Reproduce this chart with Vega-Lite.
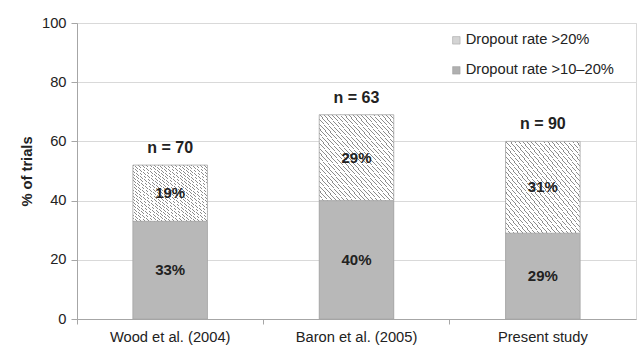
{
  "$schema": "https://vega.github.io/schema/vega-lite/v6.json",
  "width": 559,
  "height": 296,
  "autosize": {"type": "none"},
  "padding": {"left": 77, "top": 23, "right": 5, "bottom": 30},
  "background": "white",
  "config": {
    "font": "Liberation Sans",
    "view": {"stroke": "#d9d9d9", "strokeWidth": 1},
    "axis": {"labelFont": "Liberation Sans", "labelFontSize": 14.7, "labelColor": "#222", "domainColor": "#a6a6a6", "tickColor": "#a6a6a6", "gridColor": "#d9d9d9", "titleFont": "Liberation Sans"},
    "axisY": {"title": "% of trials", "titleFontSize": 14.7, "titleFontWeight": "bold", "titleColor": "#222", "values": [0, 20, 40, 60, 80, 100], "grid": true, "tickSize": 6, "labelPadding": 5, "titlePadding": 7, "labelOverlap": false}
  },
  "datasets": {
    "bars": [
      {"study": "Wood et al. (2004)", "series": "Dropout rate >10–20%", "value": 33, "label": "33%"},
      {"study": "Wood et al. (2004)", "series": "Dropout rate >20%", "value": 19, "label": "19%"},
      {"study": "Baron et al. (2005)", "series": "Dropout rate >10–20%", "value": 40, "label": "40%"},
      {"study": "Baron et al. (2005)", "series": "Dropout rate >20%", "value": 29, "label": "29%"},
      {"study": "Present study", "series": "Dropout rate >10–20%", "value": 29, "label": "29%"},
      {"study": "Present study", "series": "Dropout rate >20%", "value": 31, "label": "31%"}
    ],
    "totals": [
      {"study": "Wood et al. (2004)", "value": 52, "n": "n = 70"},
      {"study": "Baron et al. (2005)", "value": 69, "n": "n = 63"},
      {"study": "Present study", "value": 60, "n": "n = 90"}
    ]
  },
  "encoding": {
    "x": {
      "field": "study", "type": "nominal", "sort": null,
      "scale": {"paddingInner": 0.6, "paddingOuter": 0.3},
      "axis": {"title": null, "labelAngle": 0, "bandPosition": -0.75, "tickSize": 5, "labelPadding": 5, "grid": false}
    },
    "y": {
      "field": "value", "type": "quantitative", "stack": "zero",
      "scale": {"domain": [0, 100]},
      "axis": {"title": "% of trials", "values": [0, 20, 40, 60, 80, 100]}
    }
  },
  "layer": [
    {
      "data": {"name": "bars"},
      "mark": {"type": "bar"},
      "encoding": {
        "order": {"field": "series", "sort": "ascending"},
        "color": {
          "field": "series", "type": "nominal", "sort": "descending",
          "scale": {"range": ["#d4d4d4", "#b0b0b0"]},
          "legend": {"title": null, "orient": "none", "legendX": 372, "legendY": 10, "symbolType": "square", "symbolSize": 56, "symbolStrokeColor": "#999", "symbolStrokeWidth": 0.5, "labelFontSize": 14.7, "labelColor": "#222", "rowPadding": 14, "labelOffset": 2}
        }
      }
    },
    {
      "data": {"name": "bars"},
      "mark": {"type": "bar", "stroke": "#a6a6a6", "strokeWidth": 0.8},
      "encoding": {
        "order": {"field": "series", "sort": "ascending"},
        "fill": {
          "condition": {
            "test": "indexof(datum.series, '>20%') >= 0",
            "value": {
              "gradient": "linear", "x1": 0, "y1": 1, "x2": 1, "y2": 0,
              "stops": [
                {"offset": 0, "color": "#8c8c8c"}, {"offset": 0.0061, "color": "#8c8c8c"}, {"offset": 0.0061, "color": "#ffffff"}, {"offset": 0.0278, "color": "#ffffff"},
                {"offset": 0.0278, "color": "#8c8c8c"}, {"offset": 0.0339, "color": "#8c8c8c"}, {"offset": 0.0339, "color": "#ffffff"}, {"offset": 0.0556, "color": "#ffffff"},
                {"offset": 0.0556, "color": "#8c8c8c"}, {"offset": 0.0617, "color": "#8c8c8c"}, {"offset": 0.0617, "color": "#ffffff"}, {"offset": 0.0833, "color": "#ffffff"},
                {"offset": 0.0833, "color": "#8c8c8c"}, {"offset": 0.0894, "color": "#8c8c8c"}, {"offset": 0.0894, "color": "#ffffff"}, {"offset": 0.1111, "color": "#ffffff"},
                {"offset": 0.1111, "color": "#8c8c8c"}, {"offset": 0.1172, "color": "#8c8c8c"}, {"offset": 0.1172, "color": "#ffffff"}, {"offset": 0.1389, "color": "#ffffff"},
                {"offset": 0.1389, "color": "#8c8c8c"}, {"offset": 0.1450, "color": "#8c8c8c"}, {"offset": 0.1450, "color": "#ffffff"}, {"offset": 0.1667, "color": "#ffffff"},
                {"offset": 0.1667, "color": "#8c8c8c"}, {"offset": 0.1728, "color": "#8c8c8c"}, {"offset": 0.1728, "color": "#ffffff"}, {"offset": 0.1944, "color": "#ffffff"},
                {"offset": 0.1944, "color": "#8c8c8c"}, {"offset": 0.2005, "color": "#8c8c8c"}, {"offset": 0.2005, "color": "#ffffff"}, {"offset": 0.2222, "color": "#ffffff"},
                {"offset": 0.2222, "color": "#8c8c8c"}, {"offset": 0.2283, "color": "#8c8c8c"}, {"offset": 0.2283, "color": "#ffffff"}, {"offset": 0.25, "color": "#ffffff"},
                {"offset": 0.25, "color": "#8c8c8c"}, {"offset": 0.2561, "color": "#8c8c8c"}, {"offset": 0.2561, "color": "#ffffff"}, {"offset": 0.2778, "color": "#ffffff"},
                {"offset": 0.2778, "color": "#8c8c8c"}, {"offset": 0.2839, "color": "#8c8c8c"}, {"offset": 0.2839, "color": "#ffffff"}, {"offset": 0.3056, "color": "#ffffff"},
                {"offset": 0.3056, "color": "#8c8c8c"}, {"offset": 0.3117, "color": "#8c8c8c"}, {"offset": 0.3117, "color": "#ffffff"}, {"offset": 0.3333, "color": "#ffffff"},
                {"offset": 0.3333, "color": "#8c8c8c"}, {"offset": 0.3394, "color": "#8c8c8c"}, {"offset": 0.3394, "color": "#ffffff"}, {"offset": 0.3611, "color": "#ffffff"},
                {"offset": 0.3611, "color": "#8c8c8c"}, {"offset": 0.3672, "color": "#8c8c8c"}, {"offset": 0.3672, "color": "#ffffff"}, {"offset": 0.3889, "color": "#ffffff"},
                {"offset": 0.3889, "color": "#8c8c8c"}, {"offset": 0.3950, "color": "#8c8c8c"}, {"offset": 0.3950, "color": "#ffffff"}, {"offset": 0.4167, "color": "#ffffff"},
                {"offset": 0.4167, "color": "#8c8c8c"}, {"offset": 0.4228, "color": "#8c8c8c"}, {"offset": 0.4228, "color": "#ffffff"}, {"offset": 0.4444, "color": "#ffffff"},
                {"offset": 0.4444, "color": "#8c8c8c"}, {"offset": 0.4505, "color": "#8c8c8c"}, {"offset": 0.4505, "color": "#ffffff"}, {"offset": 0.4722, "color": "#ffffff"},
                {"offset": 0.4722, "color": "#8c8c8c"}, {"offset": 0.4783, "color": "#8c8c8c"}, {"offset": 0.4783, "color": "#ffffff"}, {"offset": 0.5, "color": "#ffffff"},
                {"offset": 0.5, "color": "#8c8c8c"}, {"offset": 0.5061, "color": "#8c8c8c"}, {"offset": 0.5061, "color": "#ffffff"}, {"offset": 0.5278, "color": "#ffffff"},
                {"offset": 0.5278, "color": "#8c8c8c"}, {"offset": 0.5339, "color": "#8c8c8c"}, {"offset": 0.5339, "color": "#ffffff"}, {"offset": 0.5556, "color": "#ffffff"},
                {"offset": 0.5556, "color": "#8c8c8c"}, {"offset": 0.5617, "color": "#8c8c8c"}, {"offset": 0.5617, "color": "#ffffff"}, {"offset": 0.5833, "color": "#ffffff"},
                {"offset": 0.5833, "color": "#8c8c8c"}, {"offset": 0.5894, "color": "#8c8c8c"}, {"offset": 0.5894, "color": "#ffffff"}, {"offset": 0.6111, "color": "#ffffff"},
                {"offset": 0.6111, "color": "#8c8c8c"}, {"offset": 0.6172, "color": "#8c8c8c"}, {"offset": 0.6172, "color": "#ffffff"}, {"offset": 0.6389, "color": "#ffffff"},
                {"offset": 0.6389, "color": "#8c8c8c"}, {"offset": 0.6450, "color": "#8c8c8c"}, {"offset": 0.6450, "color": "#ffffff"}, {"offset": 0.6667, "color": "#ffffff"},
                {"offset": 0.6667, "color": "#8c8c8c"}, {"offset": 0.6728, "color": "#8c8c8c"}, {"offset": 0.6728, "color": "#ffffff"}, {"offset": 0.6944, "color": "#ffffff"},
                {"offset": 0.6944, "color": "#8c8c8c"}, {"offset": 0.7005, "color": "#8c8c8c"}, {"offset": 0.7005, "color": "#ffffff"}, {"offset": 0.7222, "color": "#ffffff"},
                {"offset": 0.7222, "color": "#8c8c8c"}, {"offset": 0.7283, "color": "#8c8c8c"}, {"offset": 0.7283, "color": "#ffffff"}, {"offset": 0.75, "color": "#ffffff"},
                {"offset": 0.75, "color": "#8c8c8c"}, {"offset": 0.7561, "color": "#8c8c8c"}, {"offset": 0.7561, "color": "#ffffff"}, {"offset": 0.7778, "color": "#ffffff"},
                {"offset": 0.7778, "color": "#8c8c8c"}, {"offset": 0.7839, "color": "#8c8c8c"}, {"offset": 0.7839, "color": "#ffffff"}, {"offset": 0.8056, "color": "#ffffff"},
                {"offset": 0.8056, "color": "#8c8c8c"}, {"offset": 0.8117, "color": "#8c8c8c"}, {"offset": 0.8117, "color": "#ffffff"}, {"offset": 0.8333, "color": "#ffffff"},
                {"offset": 0.8333, "color": "#8c8c8c"}, {"offset": 0.8394, "color": "#8c8c8c"}, {"offset": 0.8394, "color": "#ffffff"}, {"offset": 0.8611, "color": "#ffffff"},
                {"offset": 0.8611, "color": "#8c8c8c"}, {"offset": 0.8672, "color": "#8c8c8c"}, {"offset": 0.8672, "color": "#ffffff"}, {"offset": 0.8889, "color": "#ffffff"},
                {"offset": 0.8889, "color": "#8c8c8c"}, {"offset": 0.8950, "color": "#8c8c8c"}, {"offset": 0.8950, "color": "#ffffff"}, {"offset": 0.9167, "color": "#ffffff"},
                {"offset": 0.9167, "color": "#8c8c8c"}, {"offset": 0.9228, "color": "#8c8c8c"}, {"offset": 0.9228, "color": "#ffffff"}, {"offset": 0.9444, "color": "#ffffff"},
                {"offset": 0.9444, "color": "#8c8c8c"}, {"offset": 0.9505, "color": "#8c8c8c"}, {"offset": 0.9505, "color": "#ffffff"}, {"offset": 0.9722, "color": "#ffffff"},
                {"offset": 0.9722, "color": "#8c8c8c"}, {"offset": 0.9783, "color": "#8c8c8c"}, {"offset": 0.9783, "color": "#ffffff"}, {"offset": 1, "color": "#ffffff"}
              ]
            }
          },
          "value": "#b8b8b8"
        }
      }
    },
    {
      "data": {"name": "bars"},
      "mark": {"type": "text", "fontSize": 15, "fontWeight": "bold", "color": "#222", "baseline": "middle"},
      "encoding": {
        "y": {"field": "value", "type": "quantitative", "stack": "zero", "bandPosition": 0.5, "axis": {"title": "% of trials", "values": [0, 20, 40, 60, 80, 100]}},
        "order": {"field": "series", "sort": "ascending"},
        "text": {"field": "label"}
      }
    },
    {
      "data": {"name": "totals"},
      "mark": {"type": "text", "fontSize": 16, "fontWeight": "bold", "color": "#222", "baseline": "middle", "dy": -17},
      "encoding": {
        "text": {"field": "n"}
      }
    }
  ]
}
